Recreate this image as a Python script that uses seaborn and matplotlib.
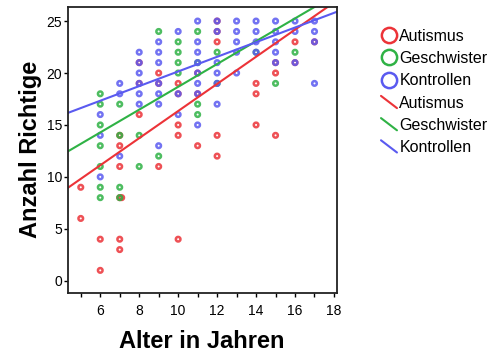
import pandas as pd
import seaborn as sns
import matplotlib.pyplot as plt
from matplotlib.lines import Line2D
from matplotlib.legend_handler import HandlerBase
from matplotlib.ticker import MultipleLocator

# Punkte (Alter, Anzahl Richtige)
aut_alter = [5, 5, 6, 6, 7, 7, 7, 7.1, 7, 7, 7, 8, 8, 8, 9, 9, 9, 10, 10, 10, 10, 10,
             11, 11, 11, 12, 12, 12, 12, 12, 14, 14, 14, 15, 15, 15, 16, 16, 17]
aut_werte = [9, 6, 4, 1, 14, 13, 11, 8, 4, 3, 8, 21, 19, 16, 20, 19, 11, 19, 18, 15, 14, 4,
             20, 18, 13, 25, 24, 23, 14, 12, 19, 18, 15, 21, 20, 14, 23, 21, 23]

ges_alter = [6, 6, 6, 6, 6, 6, 6, 7, 7, 7, 7, 8, 8, 9, 9, 10, 10, 10, 10,
             11, 11, 11, 11, 12, 12, 14, 15, 16]
ges_werte = [18, 17, 15, 13, 11, 9, 8, 17, 14, 9, 8, 14, 11, 24, 12, 23, 22, 21, 20,
             24, 21, 17, 16, 22, 19, 22, 19, 22]

kon_alter = [6, 6, 6, 7, 7, 7, 8, 8, 8, 8, 8, 8, 9, 9, 9, 9, 9, 9, 9, 10, 10, 10,
             11, 11, 11, 11, 11, 11, 11, 11, 12, 12, 12, 12, 12, 12,
             13, 13, 13, 13, 13, 14, 14, 14, 14, 15, 15, 15, 15, 15,
             16, 16, 16, 17, 17, 17, 17]
kon_werte = [16, 14, 10, 19, 18, 12, 22, 21, 20, 19, 18, 17, 23, 22, 21, 19, 18, 17, 13, 24, 18, 16,
             25, 23, 22, 21, 20, 19, 18, 15, 25, 24, 21, 20, 19, 17,
             25, 24, 23, 22, 20, 25, 24, 23, 22, 25, 24, 23, 22, 21,
             25, 24, 21, 25, 24, 23, 19]

gruppen = ['Autismus', 'Geschwister', 'Kontrollen']
farben = ['#ec3338', '#2fb245', '#5a5af0']
# Regressionsgeraden (Achsenabschnitt, Steigung)
abschnitt = [3.28, 7.69, 13.1]
steigung = [1.306, 1.098, 0.705]

df = pd.concat([
    pd.DataFrame({'Alter': aut_alter, 'Richtige': aut_werte, 'Gruppe': 'Autismus'}),
    pd.DataFrame({'Alter': ges_alter, 'Richtige': ges_werte, 'Gruppe': 'Geschwister'}),
    pd.DataFrame({'Alter': kon_alter, 'Richtige': kon_werte, 'Gruppe': 'Kontrollen'}),
])

sns.set_style('white')
plt.rcParams['font.family'] = ['Liberation Sans', 'DejaVu Sans']
plt.rcParams['text.color'] = 'black'
plt.rcParams['axes.labelcolor'] = 'black'
plt.rcParams['xtick.color'] = 'black'
plt.rcParams['ytick.color'] = 'black'

fig = plt.figure(figsize=(4.95, 3.55), dpi=100)
ax = fig.add_axes([0.1368, 0.1755, 0.5434, 0.8055])

sns.scatterplot(data=df, x='Alter', y='Richtige', hue='Gruppe', hue_order=gruppen,
                palette=farben, s=11, linewidth=1.8, alpha=0.85, legend=False, ax=ax)
# offene Kreise
for coll in ax.collections:
    coll.set_edgecolors(coll.get_facecolors())
    coll.set_facecolor('none')

for a, b, c in zip(abschnitt, steigung, farben):
    ax.axline((0, a), slope=b, color=c, lw=1.5)

ax.set_xlim(4.33, 18.14)
ax.set_ylim(-1.15, 26.38)
ax.xaxis.set_major_locator(MultipleLocator(2))
ax.xaxis.set_minor_locator(MultipleLocator(1))
ax.yaxis.set_major_locator(MultipleLocator(5))
ax.tick_params(axis='x', which='both', bottom=True, direction='out', length=3, width=1,
               labelsize=10, pad=5)
ax.tick_params(axis='y', left=True, direction='out', length=3, width=1, labelsize=10, pad=1)
for sp in ax.spines.values():
    sp.set_color('#222222')
    sp.set_linewidth(1.3)

ax.set_xlabel('Alter in Jahren', fontsize=17, fontweight='bold', labelpad=9)
ax.set_ylabel('Anzahl Richtige', fontsize=17, fontweight='bold', labelpad=3)


class DiagHandler(HandlerBase):
    def create_artists(self, legend, orig_handle, xdescent, ydescent, width, height,
                       fontsize, trans):
        l = Line2D([-xdescent, -xdescent + width], [-ydescent + height, -ydescent],
                   color=orig_handle.get_color(), lw=orig_handle.get_linewidth(),
                   transform=trans)
        return [l]


handles, labels, hmap = [], [], {}
for g, c in zip(gruppen, farben):
    handles.append(Line2D([], [], ls='none', marker='o', mfc='none', mec=c, ms=11, mew=1.8))
    labels.append(g)
for g, c in zip(gruppen, farben):
    h = Line2D([], [], color=c, lw=1.5)
    hmap[h] = DiagHandler()
    handles.append(h)
    labels.append(g)

fig.legend(handles, labels, handler_map=hmap, loc='upper left',
           bbox_to_anchor=(381 / 495, 1 - 29 / 355), frameon=False, fontsize=11.5,
           handlelength=1.0, handleheight=0.8, handletextpad=0.15, labelspacing=0.45,
           borderpad=0, borderaxespad=0)

fig.savefig('out.png', dpi=100)
